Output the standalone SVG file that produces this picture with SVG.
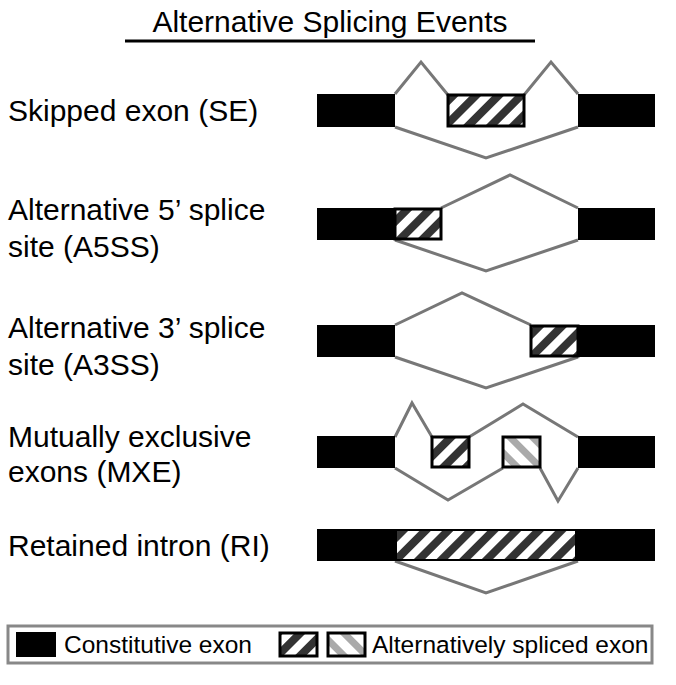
<svg xmlns="http://www.w3.org/2000/svg" width="676" height="685" viewBox="0 0 676 685">
<defs>
<pattern id="h1" patternUnits="userSpaceOnUse" width="16" height="16" patternTransform="rotate(45)"><rect width="16" height="16" fill="#fff"/><rect width="8" height="16" fill="#333"/></pattern>
<pattern id="h2" patternUnits="userSpaceOnUse" width="16" height="16" patternTransform="rotate(-45)"><rect width="16" height="16" fill="#fff"/><rect width="7" height="16" fill="#aaa"/></pattern>
</defs>
<style>
.t{font-family:"Liberation Sans",Arial,sans-serif;font-size:30px;fill:#000}
.g{font-family:"Liberation Sans",Arial,sans-serif;font-size:24.5px;fill:#000}
.c{fill:#000}
.a{fill:url(#h1);stroke:#000;stroke-width:3}
.b{fill:url(#h2);stroke:#000;stroke-width:3}
.l{fill:none;stroke:#777;stroke-width:3;stroke-linejoin:miter}
</style>
<rect width="676" height="685" fill="#fff"/>
<text x="330" y="32" text-anchor="middle" class="t">Alternative Splicing Events</text>
<line x1="125" y1="41" x2="535" y2="41" stroke="#000" stroke-width="3"/>
<g id="labels">
<text x="8" y="121" class="t">Skipped exon (SE)</text>
<text x="8" y="220" class="t">Alternative 5’ splice</text>
<text x="8" y="257" class="t">site (A5SS)</text>
<text x="8" y="338" class="t">Alternative 3’ splice</text>
<text x="8" y="375" class="t">site (A3SS)</text>
<text x="8" y="447" class="t">Mutually exclusive</text>
<text x="8" y="482" class="t">exons (MXE)</text>
<text x="8" y="556" class="t">Retained intron (RI)</text>
</g>
<g id="connectors">
<polyline class="l" points="395,94 421,62 448,95"/>
<polyline class="l" points="524,95 551,62 578,94"/>
<polyline class="l" points="395,127 486,158 578,127"/>
<polyline class="l" points="441,208 510,175 578,208"/>
<polyline class="l" points="395,240 486,271 578,240"/>
<polyline class="l" points="395,325 462,293 531,325"/>
<polyline class="l" points="395,357 486,388 578,357"/>
<polyline class="l" points="395,437 412,403 432,437"/>
<polyline class="l" points="469,437 523,404 578,437"/>
<polyline class="l" points="395,468 448,500 503,468"/>
<polyline class="l" points="540,468 558,501 578,468"/>
<polyline class="l" points="395,561 486,593 578,561"/>
</g>
<g id="se">
<rect class="c" x="317" y="94" width="78" height="33"/><rect class="c" x="578" y="94" width="77" height="33"/>
<rect class="a" x="448" y="95" width="76" height="31"/>
</g>
<g id="a5ss">
<rect class="c" x="317" y="208" width="78" height="32"/><rect class="c" x="578" y="208" width="77" height="32"/>
<rect class="a" x="395" y="209" width="46" height="30"/>
</g>
<g id="a3ss">
<rect class="c" x="317" y="325" width="78" height="32"/><rect class="c" x="578" y="325" width="77" height="32"/>
<rect class="a" x="531" y="326" width="47" height="30"/>
</g>
<g id="mxe">
<rect class="c" x="317" y="436" width="78" height="32"/><rect class="c" x="578" y="436" width="77" height="32"/>
<rect class="a" x="432" y="437" width="37" height="30"/>
<rect class="b" x="503" y="437" width="37" height="30"/>
</g>
<g id="ri">
<rect class="c" x="317" y="529" width="338" height="32"/>
<rect x="397" y="531" width="178" height="28" fill="url(#h1)"/>
</g>
<g id="legend">
<rect x="8" y="626" width="644" height="37" fill="#fff" stroke="#888" stroke-width="3"/>
<rect class="c" x="16" y="632" width="40" height="25"/>
<text x="64" y="653" class="g">Constitutive exon</text>
<rect class="a" x="280" y="633" width="37" height="23"/>
<rect class="b" x="328" y="633" width="37" height="23"/>
<text x="372" y="653" class="g">Alternatively spliced exon</text>
</g>
</svg>
